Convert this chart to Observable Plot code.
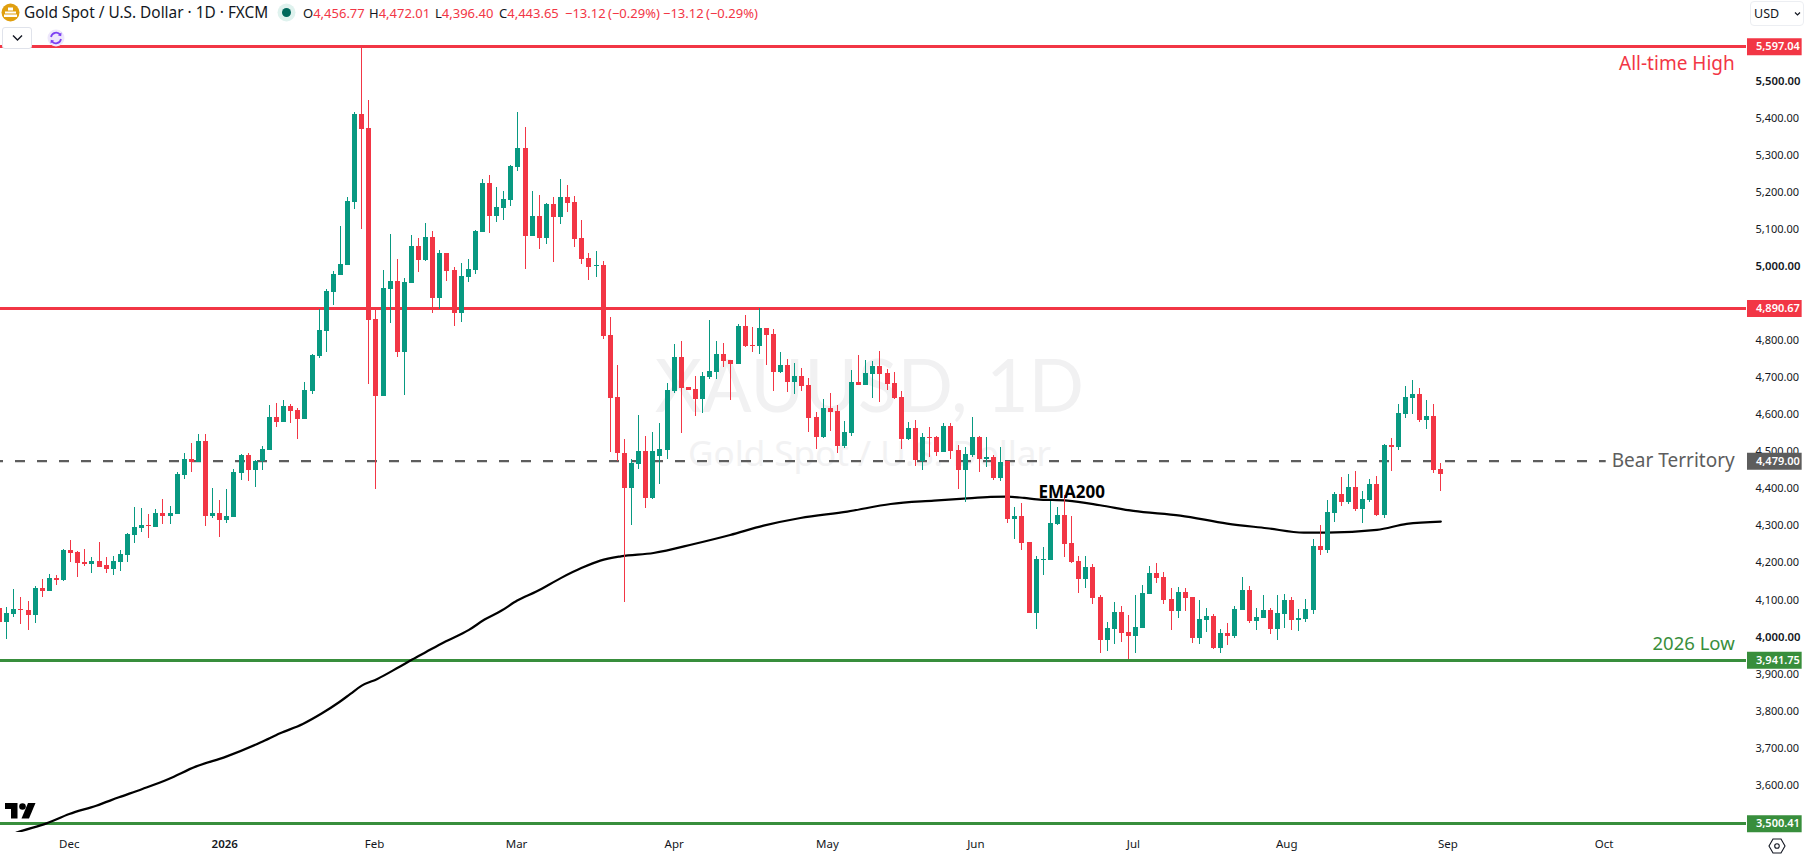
<!DOCTYPE html>
<html>
<head>
<meta charset="utf-8">
<script src="https://cdn.jsdelivr.net/npm/d3@7"></script>
<script src="https://cdn.jsdelivr.net/npm/@observablehq/plot@0.6"></script>
<style>
html,body{margin:0;padding:0;background:#fff;overflow:hidden}
body{width:1804px;height:857px;position:relative;font-family:"Noto Sans",sans-serif;color:#131722}
#head{position:relative;height:28px;width:1804px}
.s{position:absolute;top:2px;white-space:nowrap;font-size:13px;line-height:20px}
.r{color:#f23645}
#chart svg{display:block}
.ov{position:absolute}
</style>
</head>
<body>
<div id="head">
  <svg class="ov" style="left:1px;top:3px" width="19" height="19" viewBox="0 0 19 19"><circle cx="9.5" cy="9.5" r="9" fill="#e09f0f"/><rect x="7" y="4.5" width="5" height="3" fill="#fff"/><rect x="4" y="8.5" width="11" height="2" fill="#fff"/><rect x="3" y="11.5" width="13" height="2.5" fill="#fff"/></svg>
  <span class="s" id="title" style="left:24px;top:2px;font-size:15.4px;line-height:22px">Gold Spot / U.S. Dollar · 1D · FXCM</span>
  <svg class="ov" style="left:277px;top:3px" width="19" height="19"><circle cx="9.5" cy="9.5" r="9" fill="#dff2ee"/><circle cx="9.5" cy="9.5" r="4.5" fill="#00695c"/></svg>
  <span class="s" style="left:303px;top:3px">O<span class="r">4,456.77</span></span>
  <span class="s" style="left:369px;top:3px">H<span class="r">4,472.01</span></span>
  <span class="s" style="left:435px;top:3px">L<span class="r">4,396.40</span></span>
  <span class="s" style="left:499px;top:3px">C<span class="r">4,443.65</span></span>
  <span class="s r" style="left:565px;top:3px">−13.12</span>
  <span class="s r" style="left:608px;top:3px">(−0.29%)</span>
  <span class="s r" style="left:663px;top:3px">−13.12</span>
  <span class="s r" style="left:706px;top:3px">(−0.29%)</span>
  <div class="ov" style="left:1750px;top:1px;width:52px;height:23px;border:1px solid #eceef2;border-radius:4px;font-size:12.5px;line-height:23px;text-indent:3px">USD<svg class="ov" style="left:43px;top:9px" width="7" height="6"><path d="M1 1.5 L3.5 4 L6 1.5" fill="none" stroke="#131722" stroke-width="1.2"/></svg></div>
</div>
<div id="chart"></div>
<div class="ov" style="left:2px;top:27px;width:28px;height:20px;border:1px solid #e0e3eb;border-radius:3px;background:#fff;z-index:2"><svg style="position:absolute;left:9px;top:6px" width="11" height="8"><path d="M1 1.5 L5.5 6 L10 1.5" fill="none" stroke="#131722" stroke-width="1.4"/></svg></div>
<svg class="ov" style="left:47px;top:29px;z-index:2" width="18" height="18" viewBox="0 0 18 18"><circle cx="9" cy="9" r="8.5" fill="#ede7fb"/><path d="M4 8 A5.2 5.2 0 0 1 13.4 6 M14 10 A5.2 5.2 0 0 1 4.6 12" fill="none" stroke="#7b3ff2" stroke-width="1.7"/><path d="M14.5 3.5 L14.2 7.2 L10.8 6.2 Z M3.5 14.5 L3.8 10.8 L7.2 11.8 Z" fill="#7b3ff2"/></svg>
<svg class="ov" style="left:5px;top:803px;z-index:2" width="31" height="16" viewBox="0 0 31 16"><path d="M0 0 H12.5 V15.5 H6 V6 H0 Z" fill="#000"/><circle cx="17.5" cy="3.5" r="3.3" fill="#000"/><path d="M23 0 H30.5 L24 15.5 H16.5 Z" fill="#000"/></svg>
<svg class="ov" style="left:1768px;top:837px;z-index:2" width="18" height="18" viewBox="0 0 18 18"><path d="M5 2 H13 L17 9 L13 16 H5 L1 9 Z" fill="none" stroke="#131722" stroke-width="1.1"/><circle cx="9" cy="9" r="2.3" fill="none" stroke="#131722" stroke-width="1.1"/></svg>
<script>
const open = [
4082,4044.1,4064.8,4078.3,4075.6,4062.1,4135,4126.9,4162,4156.6,
4237.6,4232.2,4205.2,4199.8,4207.9,4197.1,4186.3,4205.2,4224.1,4278.1,
4297,4305.1,4299.7,4337.5,4329.4,4334.8,4440.1,4483.3,4475.2,4531.9,
4329.4,4337.5,4318.6,4326.7,4445.5,4494.1,4453.6,4477.9,4507.6,4596.7,
4583.2,4626.4,4615.6,4591.3,4666.3,4760.8,4828.3,4933.6,4979.5,5006.5,
5176.6,5414.2,5376.4,4860.7,4652.8,4941.7,4963.3,4771.6,4957.9,5057.8,
5020,5082.1,4917.4,5038.9,4993,4876.9,4974.1,4993,5095.6,5227.9,
5138.8,5160.4,5182,5271.1,5322.4,5084.8,5138.8,5079.4,5171.2,5136.1,
5190.1,5176.6,5079.4,5025.4,5003.8,5006.5,4817.9,4650.5,4499.3,4404.8,
4469.6,4504.7,4377.8,4491.2,4507.4,4666.7,4758.5,4677.5,4672.1,4645.1,
4704.5,4718,4766.6,4750.4,4739.6,4842.2,4790.9,4788.2,4836.8,4820.6,
4718,4736.9,4691,4707.2,4682.9,4596.5,4542.5,4620.8,4612.7,4518.2,
4553.3,4691,4682.9,4712.6,4734.2,4715.3,4688.3,4650.5,4537.1,4566.8,
4477.7,4542.5,4542.5,4502,4572.2,4507.4,4453.4,4493.9,4542.5,4483.1,
4488.5,4431.8,4477.7,4321.1,4329.2,4259,4067.3,4210.4,4210.4,4307.6,
4331.9,4256.3,4207.7,4159.1,4191.5,4110.9,3994.8,4024.5,4070.4,4016.4,
4005.6,4027.2,4119,4175.7,4164.9,4105.5,4073.1,4124.4,4110.9,4000.2,
4048.6,4059.4,3973,4013.5,4005.4,4075.6,4129.6,4045.9,4054,4075.6,
4024.3,4064.8,4102.6,4048.6,4051.3,4075.6,4248.4,4237.6,4337.5,4388.8,
4367.2,4407.7,4348.3,4372.6,4415.8,4332.1,4521.1,4515.7,4604.8,4648,
4658.8,4588.6,4599.4,4456.77];
const close = [
4044.1,4067.5,4078.3,4076.5,4062.1,4135,4126.9,4162,4156.6,4237.6,
4229.5,4202.5,4199.8,4207.9,4191.7,4186.3,4207.9,4226.8,4280.8,4299.7,
4305.1,4303.3,4337.5,4329.4,4337.5,4442.8,4483.3,4475.2,4531.9,4329.4,
4337.5,4318.6,4329.4,4448.2,4494.1,4453.6,4477.9,4510.3,4596.7,4583.2,
4626.4,4612.9,4591.3,4669.6,4763.5,4831,4936.3,4982.2,5009.2,5179.3,
5414.2,5373.7,4858,4652.8,4944.4,4963.3,4771.6,4960.6,5057.8,5020,
5082.1,4917.4,5038.9,4990.3,4876.9,4976.8,4995.7,5098.3,5227.9,5138.8,
5163.1,5184.7,5273.8,5322.4,5084.8,5138.8,5079.4,5171.2,5136.1,5190.1,
5173.9,5076.7,5022.7,5001.1,5006.5,4814.8,4647.8,4499.3,4404.8,4472.3,
4504.7,4377.8,4504.7,4510.1,4669.4,4758.5,4674.8,4670.3,4645.1,4707.2,
4720.7,4766.6,4747.7,4739.6,4842.2,4788.2,4788.2,4836.8,4817.9,4718,
4736.9,4691,4707.2,4680.2,4593.8,4542.5,4620.8,4610,4518.2,4556,
4691,4682.9,4715.3,4734.2,4712.6,4685.6,4647.8,4537.1,4566.8,4480.4,
4542.5,4539.8,4502,4572.2,4504.7,4453.4,4496.6,4542.5,4483.1,4488.5,
4431.8,4475,4321.1,4329.2,4256.3,4067.3,4213.1,4213.1,4310.3,4331.9,
4253.6,4205,4159.1,4191.5,4107.8,3994.8,4027.2,4070.4,4013.7,4005.6,
4029.9,4121.7,4175.7,4162.2,4102.8,4073.1,4124.4,4108.2,4000.2,4051.5,
4059.4,3973,4013.5,4005.4,4078.3,4129.6,4045.9,4056.7,4075.6,4024.3,
4067.5,4102.6,4048.6,4054,4078.3,4248.4,4237.6,4340.2,4388.8,4367.2,
4407.7,4348.3,4375.3,4415.8,4332.1,4521.1,4515.7,4607.5,4650.7,4658.8,
4588.6,4599.4,4453.6,4443.65];
const high = [
4082,4083.7,4132.3,4110.7,4099.9,4140.4,4159.3,4172.8,4170.1,4239.4,
4264.6,4234.9,4240.3,4218.7,4259.2,4218.7,4221.4,4237.6,4284.4,4353.7,
4351,4334.8,4348.3,4375.3,4356.4,4448.2,4499.5,4526.5,4550.8,4550.8,
4405,4372.6,4402.3,4456.3,4496.8,4499.5,4480.6,4518.4,4629.1,4634.5,
4642.6,4631.8,4621,4691.2,4766.2,4887.7,4941.7,4990.3,5111.8,5190.1,
5419.6,5597.04,5452,4885,4993,5090.2,5022.7,4971.4,5087.5,5079.4,
5119.9,5098.3,5047,5038.9,5001.1,5011.9,5022.7,5101,5238.7,5249.5,
5217.1,5206.3,5276.5,5419.6,5379.1,5206.3,5195.5,5173.9,5190.1,5238.7,
5222.5,5192.8,5128,5038.9,5044.3,5017.3,4866.5,4736.9,4537.1,4483.1,
4601.9,4545.2,4556,4580.3,4688.3,4793.6,4801.7,4677.5,4707.2,4718,
4858.4,4801.7,4796.3,4750.4,4847.6,4871.9,4839.5,4891.7,4836.8,4834.1,
4772,4753.1,4742.3,4728.8,4701.8,4610,4645.1,4661.3,4628.9,4585.7,
4723.4,4763.9,4750.4,4747.7,4774.7,4726.1,4718,4666.7,4583,4588.4,
4553.3,4569.5,4545.2,4580.3,4580.3,4520.9,4515.5,4596.5,4545.2,4542.5,
4493.9,4515.5,4478.6,4353.5,4364.3,4259,4221.2,4245.5,4369.7,4353.5,
4385.9,4329.2,4221.2,4221.2,4199.6,4116.3,4043.4,4097.4,4086.6,4062.3,
4116.3,4143.3,4194.6,4202.7,4178.4,4135.2,4137.9,4135.2,4110.9,4102.8,
4081,4064.8,4024.3,4040.5,4086.4,4164.7,4140.4,4081,4116.1,4081,
4116.1,4118.8,4110.7,4078.3,4105.3,4267.3,4305.1,4372.6,4394.2,4434.7,
4442.8,4450.9,4396.9,4429.3,4437.4,4523.8,4540,4631.8,4680.4,4696.6,
4675,4642.6,4631.8,4472.01];
const low = [
4044.1,3998.2,4057.6,4037.8,4021.6,4040.5,4110.7,4126.9,4143.1,4153.9,
4205.2,4164.7,4194.4,4175.5,4191.7,4175.5,4170.1,4180.9,4205.2,4256.5,
4286.2,4270,4299.7,4307.8,4307.8,4334.8,4429.3,4448.2,4475.2,4302.4,
4324,4272.7,4310.5,4326.7,4426.6,4423.9,4407.7,4453.6,4507.6,4569.7,
4583.2,4580.5,4537.3,4591.3,4658.2,4755.4,4771.6,4898.5,4979.5,5006.5,
5157.7,5103.7,4685.2,4401.7,4652.8,4849.9,4758.1,4655.5,4957.9,4987.6,
5017.3,4876.9,4887.7,4963.3,4841.8,4852.6,4960.6,4982.2,5095.6,5092.9,
5122.6,5128,5165.8,5260.3,4995.7,5084.8,5049.7,5063.2,5014.6,5117.2,
5149.6,5055.1,5009.2,4966,4974.1,4806.7,4502,4477.7,4097,4304.9,
4456.1,4350.8,4375.1,4415.6,4483.1,4661.3,4553.3,4670.3,4599.2,4607.3,
4699.1,4699.1,4731.5,4642.4,4739.6,4785.5,4772,4766.6,4736.9,4666.7,
4715.3,4664,4658.6,4666.7,4556,4510.1,4539.8,4558.7,4499.3,4512.8,
4545.2,4682.9,4682.9,4647.8,4637,4669.4,4645.1,4510.1,4534.4,4464.2,
4453.4,4488.5,4491.2,4502,4483.1,4402.1,4367,4488.5,4448,4461.5,
4426.4,4423.7,4310.3,4267.1,4237.4,4067.3,4024.1,4169.9,4210.4,4304.9,
4218.5,4202.3,4121.3,4134.8,4091.6,3959.7,3965.1,3984,3989.4,3943.5,
3959.7,4027.2,4119,4148.7,4092,4021.8,4054.2,4073.1,3986.7,3984,
4016.2,3970.3,3959.5,3981.1,4000,4075.6,4040.5,4021.6,4054,4010.8,
3994.6,4027,4021.6,4018.9,4043.2,4064.8,4224.1,4229.5,4313.2,4356.4,
4361.8,4342.9,4310.5,4367.2,4329.4,4324,4450.9,4507.6,4594,4604.8,
4583.2,4564.3,4445.5,4396.4];

const emaIndex = [1.5,2.5,6.6,9.8,13.6,16.8,20.1,23.8,27.6,31.9,36.8,39.5,42.7,45.4,47.8,49.4,51,53.2,56.2,58.1,60,62.6,66.1,68.3,70.7,72.9,75.6,79.1,82,84.6,87.5,92.1,97.8,102.9,107.6,112.8,119.4,125.5,131.6,135.8,139.6,141.9,144.3,146.1,150.4,155,159.7,166.3,172.9,178.5,183.7,187,194,198.2,203];
const emaValue = [3470,3477.3,3501.6,3526.8,3549.3,3571.8,3594.3,3621.3,3654.6,3681.6,3720.3,3744.6,3769.8,3798.6,3828.3,3850.8,3873.3,3891.3,3922.8,3943.5,3963.3,3990.3,4023.6,4051.5,4075.8,4102.8,4127.1,4164,4191,4210.6,4222.1,4231.1,4255.4,4279.7,4304.9,4325.6,4342.7,4363.4,4372.4,4377.8,4382.3,4383.2,4379.6,4376,4372.4,4360,4344.7,4332.1,4310.5,4297.9,4286.2,4286.2,4293.4,4309.6,4315.9];

const redLevels = [5597.04,4890.67];
const greenLevels = [3941.75,3500.41];
const bearLevel = [4479];
const priceTicks = [3600,3700,3800,3900,4100,4200,4300,4400,4500,4600,4700,4800,5100,5200,5300,5400];
const majorTicks = [4000,5000,5500];
const monthIndex = [9.8,52.8,72.8,95,116.6,137.5,159.7,181.3,204,226];
const monthLabels = ["Dec","Feb","Mar","Apr","May","Jun","Jul","Aug","Sep","Oct"];
const yearIndex = [31.7];
const yearLabels = ["2026"];

const UP="#089981", DOWN="#f23645", GREEN="#388e3c", GREY="#5d5d5d";
const FONT='"Noto Sans",sans-serif';
const idx = d3.range(open.length);
const ups = idx.filter(i=>close[i]>=open[i]);
const downs = idx.filter(i=>close[i]<open[i]);
const fmt = d3.format(",.2f");
const emaPts = emaIndex.map((x,k)=>({x,y:emaValue[k]}));
const TAGX1=246.2, TAGX2=253.9, TAGTX=247.4, LABX=244.4;
const tag=(levels,c)=>[
  Plot.ruleY(levels,{y:d=>d,x1:TAGX1,x2:TAGX2,stroke:c,strokeWidth:17}),
  Plot.text(levels,{y:d=>d,x:TAGTX,text:d=>fmt(d),fill:"#fff",textAnchor:"start",fontSize:11,fontWeight:600})
];
const chart = Plot.plot({
  width:1804,height:829,marginLeft:0,marginRight:58,marginTop:0,marginBottom:25,
  style:{fontFamily:FONT,background:"#fff",overflow:"visible",color:"#131722"},
  x:{type:"linear",domain:[0.113,246.06],axis:null},
  y:{type:"linear",domain:[3476.9,5646.4],axis:null},
  marks:[
    Plot.text(["XAUUSD, 1D"],{frameAnchor:"middle",dx:-4,dy:-42,fontSize:73,fontFamily:"Lato",fill:"#f1f1f2"}),
    Plot.text(["Gold Spot / U.S. Dollar"],{frameAnchor:"middle",dx:-4,dy:24,fontSize:35,fill:"#f2f2f3"}),
    Plot.ruleY(redLevels,{stroke:DOWN,strokeWidth:3,shapeRendering:"crispEdges"}),
    Plot.ruleY(greenLevels,{stroke:GREEN,strokeWidth:3,shapeRendering:"crispEdges"}),
    Plot.ruleY(bearLevel,{x1:0.113,x2:226.3,stroke:GREY,strokeWidth:2.2,strokeDasharray:"10,12",strokeDashoffset:7}),
    Plot.line(emaPts,{x:"x",y:"y",stroke:"#000",strokeWidth:2.2,curve:"monotone-x",clip:true}),
    Plot.ruleX(ups,{x:i=>i,y1:i=>low[i],y2:i=>high[i],stroke:UP,strokeWidth:1,shapeRendering:"crispEdges"}),
    Plot.ruleX(downs,{x:i=>i,y1:i=>low[i],y2:i=>high[i],stroke:DOWN,strokeWidth:1,shapeRendering:"crispEdges"}),
    Plot.ruleX(ups,{x:i=>i,y1:i=>open[i],y2:i=>close[i],stroke:UP,strokeWidth:5,shapeRendering:"crispEdges"}),
    Plot.ruleX(downs,{x:i=>i,y1:i=>open[i],y2:i=>close[i],stroke:DOWN,strokeWidth:5,shapeRendering:"crispEdges"}),
    Plot.axisY(priceTicks,{anchor:"right",tickSize:0,tickPadding:9,tickFormat:fmt,label:null,fontSize:11,dy:-1.6,fill:"#131722"}),
    Plot.axisY(majorTicks,{anchor:"right",tickSize:0,tickPadding:9,tickFormat:fmt,label:null,fontSize:11.3,fontWeight:600,dy:-1.6,fill:"#131722"}),
    Plot.axisX(monthIndex,{anchor:"bottom",tickSize:0,tickPadding:7,tickFormat:d=>monthLabels[monthIndex.indexOf(d)],label:null,fontSize:11.5,fill:"#131722"}),
    Plot.axisX(yearIndex,{anchor:"bottom",tickSize:0,tickPadding:7,tickFormat:d=>yearLabels[yearIndex.indexOf(d)],label:null,fontSize:11.5,fontWeight:600,fill:"#131722"}),
    ...tag(redLevels,DOWN),
    ...tag(greenLevels,GREEN),
    ...tag(bearLevel,GREY),
    Plot.text(["All-time High"],{x:LABX,y:redLevels[0],dy:17,textAnchor:"end",fill:DOWN,fontSize:19}),
    Plot.text(["Bear Territory"],{x:LABX,y:bearLevel[0],textAnchor:"end",fill:GREY,fontSize:19}),
    Plot.text(["2026 Low"],{x:LABX,y:greenLevels[0],dy:-16,textAnchor:"end",fill:GREEN,fontSize:18.5}),
    Plot.text(["EMA200"],{x:151,y:4398,dy:1,fill:"#000",fontSize:17,fontWeight:700})
  ]
});
document.getElementById("chart").appendChild(chart);
</script>
</body>
</html>
